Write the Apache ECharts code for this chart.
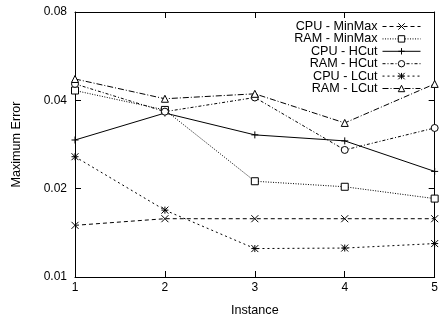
<!DOCTYPE html>
<html>
<head>
<meta charset="utf-8">
<script src="https://cdn.jsdelivr.net/npm/echarts@6/dist/echarts.min.js"></script>
<style>
  html, body { margin: 0; padding: 0; background: #fff; }
  #chart { width: 441px; height: 322px; }
</style>
</head>
<body>
<div id="chart"></div>
<script>
// Instances on the x axis
const instances = [1, 2, 3, 4, 5];
// Maximum error per instance
const cpuMinMax = [0.0150, 0.0158, 0.0158, 0.0158, 0.0158];
const ramMinMax = [0.0432, 0.0371, 0.0212, 0.0203, 0.0185];
const cpuHCut   = [0.0293, 0.0362, 0.0305, 0.0291, 0.0229];
const ramHCut   = [0.0455, 0.0366, 0.0409, 0.0271, 0.0322];
const cpuLCut   = [0.0257, 0.0169, 0.0125, 0.01255, 0.0130];
const ramLCut   = [0.0473, 0.0405, 0.0421, 0.0335, 0.0455];
// Tick labels
const yTicks = [0.01, 0.02, 0.04, 0.08];
const xTicks = [1, 2, 3, 4, 5];

const FONT = 'Liberation Sans, Arial, sans-serif';

const seriesDefs = [
  { name: 'CPU - MinMax', values: cpuMinMax, symbol: 'path://M0,0L8,8M8,0L0,8', dash: [4, 3] },
  { name: 'RAM - MinMax', values: ramMinMax, symbol: 'rect', dash: [1, 1.5] },
  { name: 'CPU - HCut',   values: cpuHCut,   symbol: 'path://M4,0L4,8M0,4L8,4', dash: 'solid' },
  { name: 'RAM - HCut',   values: ramHCut,   symbol: 'circle', dash: [3, 2, 1, 2] },
  { name: 'CPU - LCut',   values: cpuLCut,   symbol: 'path://M0,0L8,8M8,0L0,8M4,0L4,8M0,4L8,4', dash: [2, 3] },
  { name: 'RAM - LCut',   values: ramLCut,   symbol: 'triangle', dash: [6, 2, 1, 2] }
];

const chart = echarts.init(document.getElementById('chart'), null, { renderer: 'canvas' });

const tickStyle = { show: true, inside: true, length: 6, lineStyle: { color: '#000', width: 1 } };
const lineStyleAxis = { show: true, lineStyle: { color: '#000', width: 1 } };

chart.setOption({
  backgroundColor: '#fff',
  animation: false,
  textStyle: { fontFamily: FONT },
  grid: { left: 75, right: 4, top: 12, bottom: 45 },
  legend: {
    orient: 'vertical',
    align: 'right',
    right: 20,
    top: 20,
    padding: 0,
    itemGap: -0.6,
    itemWidth: 38,
    itemHeight: 8,
    lineStyle: { width: 1 },
    itemStyle: { borderWidth: 1 },
    textStyle: { fontFamily: FONT, fontSize: 12.6, lineHeight: 12, color: '#000' },
    data: seriesDefs.map(s => s.name)
  },
  xAxis: [
    {
      type: 'value', min: 1, max: 5, interval: 1,
      name: 'Instance', nameLocation: 'middle', nameGap: 27,
      nameTextStyle: { fontFamily: FONT, fontSize: 12.6, color: '#000' },
      axisLine: lineStyleAxis,
      axisTick: tickStyle,
      axisLabel: { color: '#000', fontSize: 12, fontFamily: FONT, margin: 5,
                   customValues: xTicks },
      splitLine: { show: false }
    },
    {
      type: 'value', min: 1, max: 5, interval: 1, position: 'top',
      axisLine: lineStyleAxis,
      axisTick: tickStyle,
      axisLabel: { show: false },
      splitLine: { show: false }
    }
  ],
  yAxis: [
    {
      type: 'log', logBase: 2, min: 0.01, max: 0.08,
      name: 'Maximum Error', nameLocation: 'middle', nameGap: 52,
      nameTextStyle: { fontFamily: FONT, fontSize: 12.6, color: '#000' },
      axisLine: lineStyleAxis,
      axisTick: Object.assign({}, tickStyle, { customValues: yTicks }),
      axisLabel: { color: '#000', fontSize: 12, fontFamily: FONT, margin: 8,
                   customValues: yTicks, formatter: v => String(v) },
      splitLine: { show: false },
      minorTick: { show: false }
    },
    {
      type: 'log', logBase: 2, min: 0.01, max: 0.08, position: 'right',
      axisLine: lineStyleAxis,
      axisTick: Object.assign({}, tickStyle, { customValues: yTicks }),
      axisLabel: { show: false, customValues: yTicks },
      splitLine: { show: false }
    }
  ],
  series: seriesDefs.map(s => ({
    name: s.name,
    type: 'line',
    xAxisIndex: 0,
    yAxisIndex: 0,
    data: instances.map((x, i) => [x, s.values[i]]),
    symbol: s.symbol,
    symbolSize: 7,
    showSymbol: true,
    itemStyle: { color: '#fff', borderColor: '#000', borderWidth: 1 },
    lineStyle: { color: '#000', width: 1, type: s.dash },
    emphasis: { disabled: true }
  }))
});
</script>
</body>
</html>
